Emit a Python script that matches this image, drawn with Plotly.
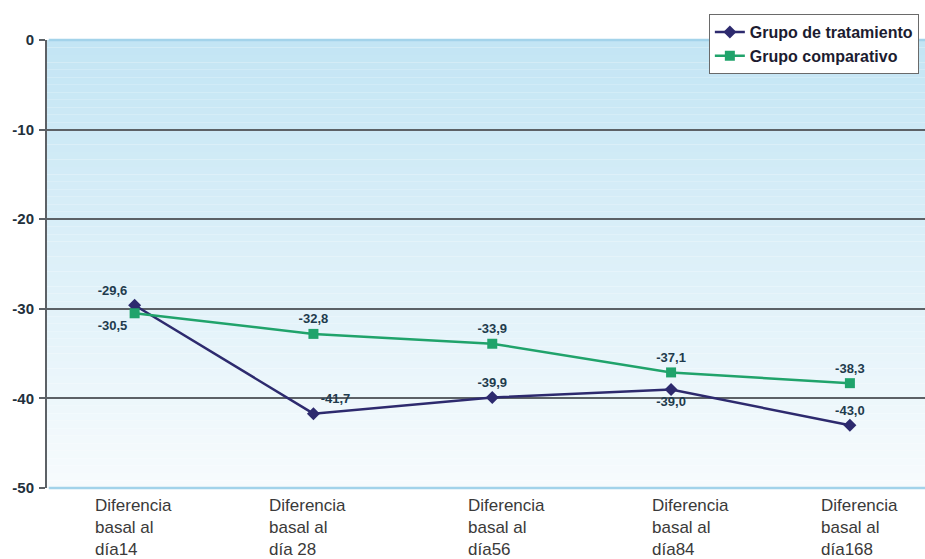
import plotly.graph_objects as go

# Category labels (x axis) and the two series
categorias = [
    "Diferencia<br>basal al<br>día14",
    "Diferencia<br>basal al<br>día 28",
    "Diferencia<br>basal al<br>día56",
    "Diferencia<br>basal al<br>día84",
    "Diferencia<br>basal al<br>día168",
]
tratamiento = [-29.6, -41.7, -39.9, -39.0, -43.0]
comparativo = [-30.5, -32.8, -33.9, -37.1, -38.3]
y_ticks = [0, -10, -20, -30, -40, -50]

# Styling
COL_TRAT = "#2d2a6e"
COL_COMP = "#20a36b"
LABEL_COL = "#1f3b4d"
FONT = "Liberation Sans, Arial, sans-serif"
pos_trat = ["top left", "top right", "top center", "bottom center", "top center"]
pos_comp = ["bottom left", "top center", "top center", "top center", "top center"]
label_shift = [-42, -46, -26, -21, -31]


def fmt(v):
    return "<b>" + f"{v:.1f}".replace(".", ",") + "</b>"


fig = go.Figure()

fig.add_trace(go.Scatter(
    x=categorias, y=tratamiento, name="<b>Grupo de tratamiento</b>",
    mode="lines+markers+text",
    line=dict(color=COL_TRAT, width=2.5),
    marker=dict(symbol="diamond", size=10, color=COL_TRAT),
    text=[fmt(v) for v in tratamiento], textposition=pos_trat,
    textfont=dict(family=FONT, size=13, color=LABEL_COL),
    legendgroup="t",
))
fig.add_trace(go.Scatter(
    x=categorias, y=comparativo, name="<b>Grupo comparativo</b>",
    mode="lines+markers+text",
    line=dict(color=COL_COMP, width=2.5),
    marker=dict(symbol="square", size=10, color=COL_COMP),
    text=[fmt(v) for v in comparativo], textposition=pos_comp,
    textfont=dict(family=FONT, size=13, color=LABEL_COL),
    legendgroup="c",
))

# Vertical background gradient: light blue at the top fading to near white
shapes = []
n = 60
top = (195, 229, 244)
bot = (247, 251, 253)
for i in range(n):
    t = i / (n - 1)
    c = tuple(round(top[k] + (bot[k] - top[k]) * t) for k in range(3))
    shapes.append(dict(
        type="rect", xref="paper", yref="y domain", layer="below",
        x0=0, x1=1, y0=1 - (i + 1) / n, y1=1 - i / n,
        fillcolor=f"rgb{c}", line=dict(width=0),
    ))
# Light blue border lines at top and bottom of the plot area
for yv in (0, 1):
    shapes.append(dict(
        type="line", xref="paper", yref="y domain", layer="between",
        x0=0.002, x1=1, y0=yv, y1=yv,
        line=dict(color="#a3d3ea", width=2.5),
    ))

annotations = []
for cat, dx in zip(categorias, label_shift):
    annotations.append(dict(
        x=cat, xref="x", y=0, yref="paper", yanchor="top", xanchor="left",
        xshift=dx, yshift=-6, text=cat, showarrow=False, align="left",
        font=dict(family=FONT, size=17, color="#3a3a3a"),
    ))

fig.update_layout(
    width=925, height=559,
    margin=dict(l=47, r=0, t=40, b=71),
    paper_bgcolor="white", plot_bgcolor="white",
    showlegend=True,
    legend=dict(
        x=0.993, xanchor="right", y=1.058, yanchor="top",
        bgcolor="white", bordercolor="#6a6a6a", borderwidth=1,
        font=dict(family=FONT, size=16, color="#1c1c30"),
        tracegroupgap=5, traceorder="normal", itemwidth=30,
    ),
    shapes=shapes,
    annotations=annotations,
)
fig.update_xaxes(
    type="category", range=[-0.49, 4.42], showticklabels=False,
    showgrid=False, zeroline=False, showline=False, ticks="",
)
fig.update_yaxes(
    range=[-50, 0], tickvals=y_ticks,
    ticktext=[f"<b>{v}</b>" for v in y_ticks],
    showgrid=True, gridcolor="#5c6166", gridwidth=2, zeroline=False,
    showline=True, linecolor="#5c6166", linewidth=2,
    ticks="outside", ticklen=6, tickcolor="#5c6166", tickwidth=1.5,
    tickfont=dict(family=FONT, size=15, color="#22303c"),
    ticklabelstandoff=2,
)

fig.write_html("out.html")
